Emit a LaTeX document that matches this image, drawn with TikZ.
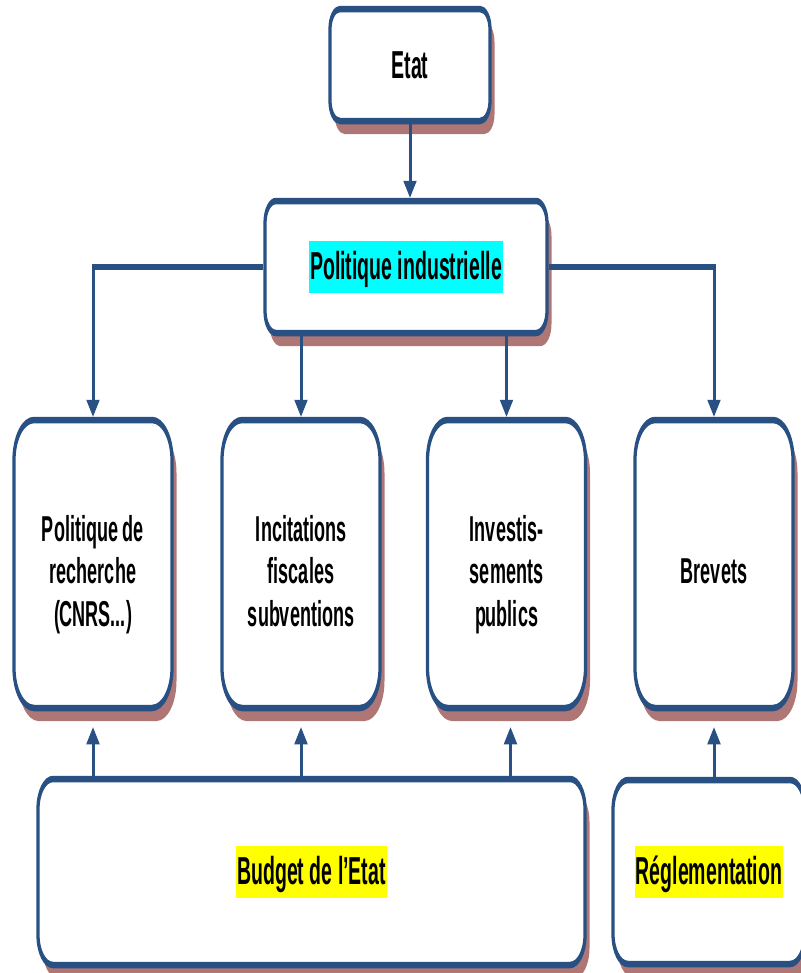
\documentclass[tikz,border=0pt]{standalone}
\usepackage{fontspec}
\setmainfont{Liberation Sans}
\usetikzlibrary{arrows.meta,shadows}
\definecolor{boxblue}{RGB}{40,80,130}
\definecolor{shadowred}{RGB}{175,118,118}
\definecolor{hlcyan}{RGB}{0,255,255}
\definecolor{hlyellow}{RGB}{255,255,0}
\newcommand{\markbg}[2]{{\setlength{\fboxsep}{2bp}\colorbox{#1}{\rule[-12bp]{0pt}{48bp}#2}}}
\newcommand{\rowtext}[1]{\raisebox{-11bp}[\height][\depth]{\begin{tabular}{@{}c@{}}#1\end{tabular}}}
\tikzset{
  box/.style={draw=boxblue, line width=6.5bp, fill=white, inner sep=0pt,
    align=center, font=\bfseries\fontsize{39bp}{42.5bp}\selectfont,
    drop shadow={shadow xshift=9bp, shadow yshift=-13bp, fill=shadowred, opacity=1}},
  rowbox/.style={box, rounded corners=40bp, minimum width=316bp, minimum height=288bp,
    font=\bfseries\fontsize{36bp}{42.5bp}\selectfont},
  link/.style={draw=boxblue, line width=6bp, -{Triangle[length=17bp,width=26bp]}}
}

\begin{document}
\begin{tikzpicture}[x=1bp,y=-1bp]
  \useasboundingbox (0,0) rectangle (801,973);
  \begin{scope}[transform canvas={xscale=0.5}]
    \node[box, rounded corners=20bp, minimum width=320bp, minimum height=112bp] (etat) at (820,65) {Etat};
    \node[box, rounded corners=22bp, minimum width=564bp, minimum height=132bp] (polind) at (812,267) {\markbg{hlcyan}{Politique industrielle}};
    \node[rowbox] (rech) at (186,564) {\rowtext{Politique de\\recherche\\(CNRS...)}};
    \node[rowbox] (incit) at (602,564) {\rowtext{Incitations\\fiscales\\subventions}};
    \node[rowbox] (invest) at (1013,564) {\rowtext{Investis-\\sements\\publics}};
    \node[rowbox] (brev) at (1428,564) {\rowtext{Brevets}};
    \node[box, rounded corners=30bp, minimum width=1094bp, minimum height=186bp] (budget) at (623,872) {\markbg{hlyellow}{Budget de l’Etat}};
    \node[box, rounded corners=30bp, minimum width=384bp, minimum height=184bp] (regl) at (1418,872) {\markbg{hlyellow}{Réglementation}};
    % liens
    \draw[link] (etat.south) -- (etat.south |- polind.north);
    \draw[link] (polind.west) -| (rech.north);
    \draw[link] (polind.east) -| (brev.north);
    \draw[link] (incit.north |- polind.south) -- (incit.north);
    \draw[link] (invest.north |- polind.south) -- (invest.north);
    \draw[link] (rech.south |- budget.north) -- ([yshift=-16bp]rech.south);
    \draw[link] (incit.south |- budget.north) -- ([yshift=-16bp]incit.south);
    \draw[link] ([xshift=8bp]invest.south |- budget.north) -- ([xshift=8bp,yshift=-16bp]invest.south);
    \draw[link] (brev.south |- regl.north) -- ([yshift=-16bp]brev.south);
  \end{scope}
\end{tikzpicture}
\end{document}
